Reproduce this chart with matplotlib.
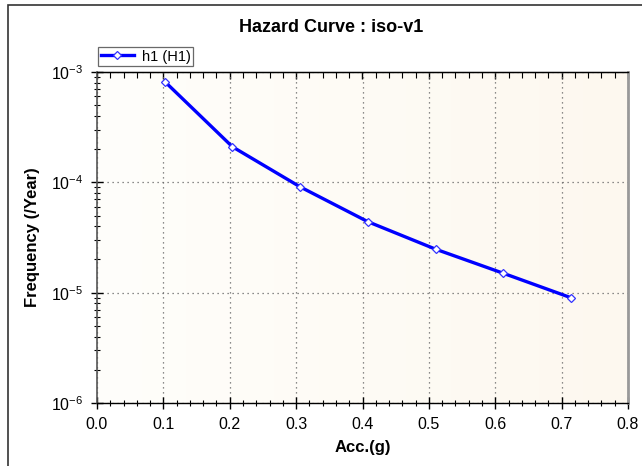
import matplotlib
matplotlib.use("Agg")
import matplotlib.pyplot as plt
import numpy as np
from matplotlib.ticker import MultipleLocator, LogLocator, NullFormatter
from matplotlib.patches import Rectangle

plt.rcParams['font.family'] = ['Liberation Sans', 'DejaVu Sans']

acc = [0.102, 0.204, 0.306, 0.408, 0.510, 0.612, 0.714]
freq = [8.2e-4, 2.1e-4, 9.1e-5, 4.4e-5, 2.48e-5, 1.5e-5, 9.0e-6]
series_label = "h1 (H1)"
title = "Hazard Curve : iso-v1"
xlabel = "Acc.(g)"
ylabel = "Frequency (/Year)"

W, H = 642, 466
fig = plt.figure(figsize=(W/100, H/100), dpi=100)
fig.patch.set_facecolor('white')
ax = fig.add_axes([97/W, 1-403/H, (628-97)/W, (403-72)/H])

# background gradient
grad = np.linspace(0, 1, 256).reshape(1, -1)
ax.imshow(np.tile(grad, (256, 1)), extent=[0, 1, 0, 1], transform=ax.transAxes,
          cmap=matplotlib.colors.LinearSegmentedColormap.from_list('bg', ['#fffefb', '#fdf8ef']),
          aspect='auto', zorder=0)
ax.set_facecolor('#fffcf6')

ax.plot(acc, freq, color='#0000ff', lw=2.4, marker='D', ms=4.5, mfc='white',
        mec='#3333ff', mew=0.9, label=series_label, zorder=5)

ax.set_yscale('log')
ax.set_xlim(0, 0.8)
ax.set_ylim(1e-6, 1e-3)
ax.xaxis.set_major_locator(MultipleLocator(0.1))
ax.xaxis.set_minor_locator(MultipleLocator(0.02))
ax.yaxis.set_major_locator(LogLocator(base=10, numticks=10))
ax.yaxis.set_minor_locator(LogLocator(base=10, subs=np.arange(2, 10), numticks=10))
ax.yaxis.set_minor_formatter(NullFormatter())
ax.xaxis.set_major_formatter(matplotlib.ticker.FuncFormatter(lambda v, p: f"{v:.1f}"))

ax.tick_params(axis='both', which='major', direction='inout', length=8, width=1, colors='black',
               labelsize=11.5)
ax.tick_params(axis='both', which='minor', direction='inout', length=5, width=0.8)
ax.tick_params(axis='x', pad=6)
ax.tick_params(axis='y', pad=6)

# top ticks pointing inward
sec = ax.secondary_xaxis('top')
sec.xaxis.set_major_locator(MultipleLocator(0.1))
sec.xaxis.set_minor_locator(MultipleLocator(0.02))
sec.tick_params(which='major', direction='in', length=5, width=1, labeltop=False)
sec.tick_params(which='minor', direction='in', length=4, width=0.8)
sec.spines['top'].set_color('black')

ax.grid(True, which='major', color='#666666', linestyle=(0, (1, 3)), lw=0.9)

for s in ['top', 'bottom']:
    ax.spines[s].set_color('black')
    ax.spines[s].set_linewidth(1)
ax.spines['left'].set_color('#555555')
ax.spines['left'].set_linewidth(1.2)
ax.spines['right'].set_color('#999999')
ax.spines['right'].set_linewidth(2)

ax.set_xlabel(xlabel, fontsize=12, fontweight='bold', labelpad=6)
ax.set_ylabel(ylabel, fontsize=12, fontweight='bold', labelpad=8)
fig.text(331/W, 1-27/H, title, ha='center', va='center', fontsize=13, fontweight='bold')

leg = ax.legend(loc='lower left', bbox_to_anchor=(-0.003, 1.01), fontsize=10.5,
                frameon=True, fancybox=False, edgecolor='#444444', borderpad=0.15,
                handlelength=2.3, handletextpad=0.55, borderaxespad=0.2)
leg.get_frame().set_linewidth(0.9)

# outer chart frame
fig.patches.append(Rectangle((8/W, -0.01), 1.1, 1 - 5/H + 0.01, transform=fig.transFigure,
                             fill=False, edgecolor='#333333', lw=1.2))

fig.savefig('out.png', dpi=100)
